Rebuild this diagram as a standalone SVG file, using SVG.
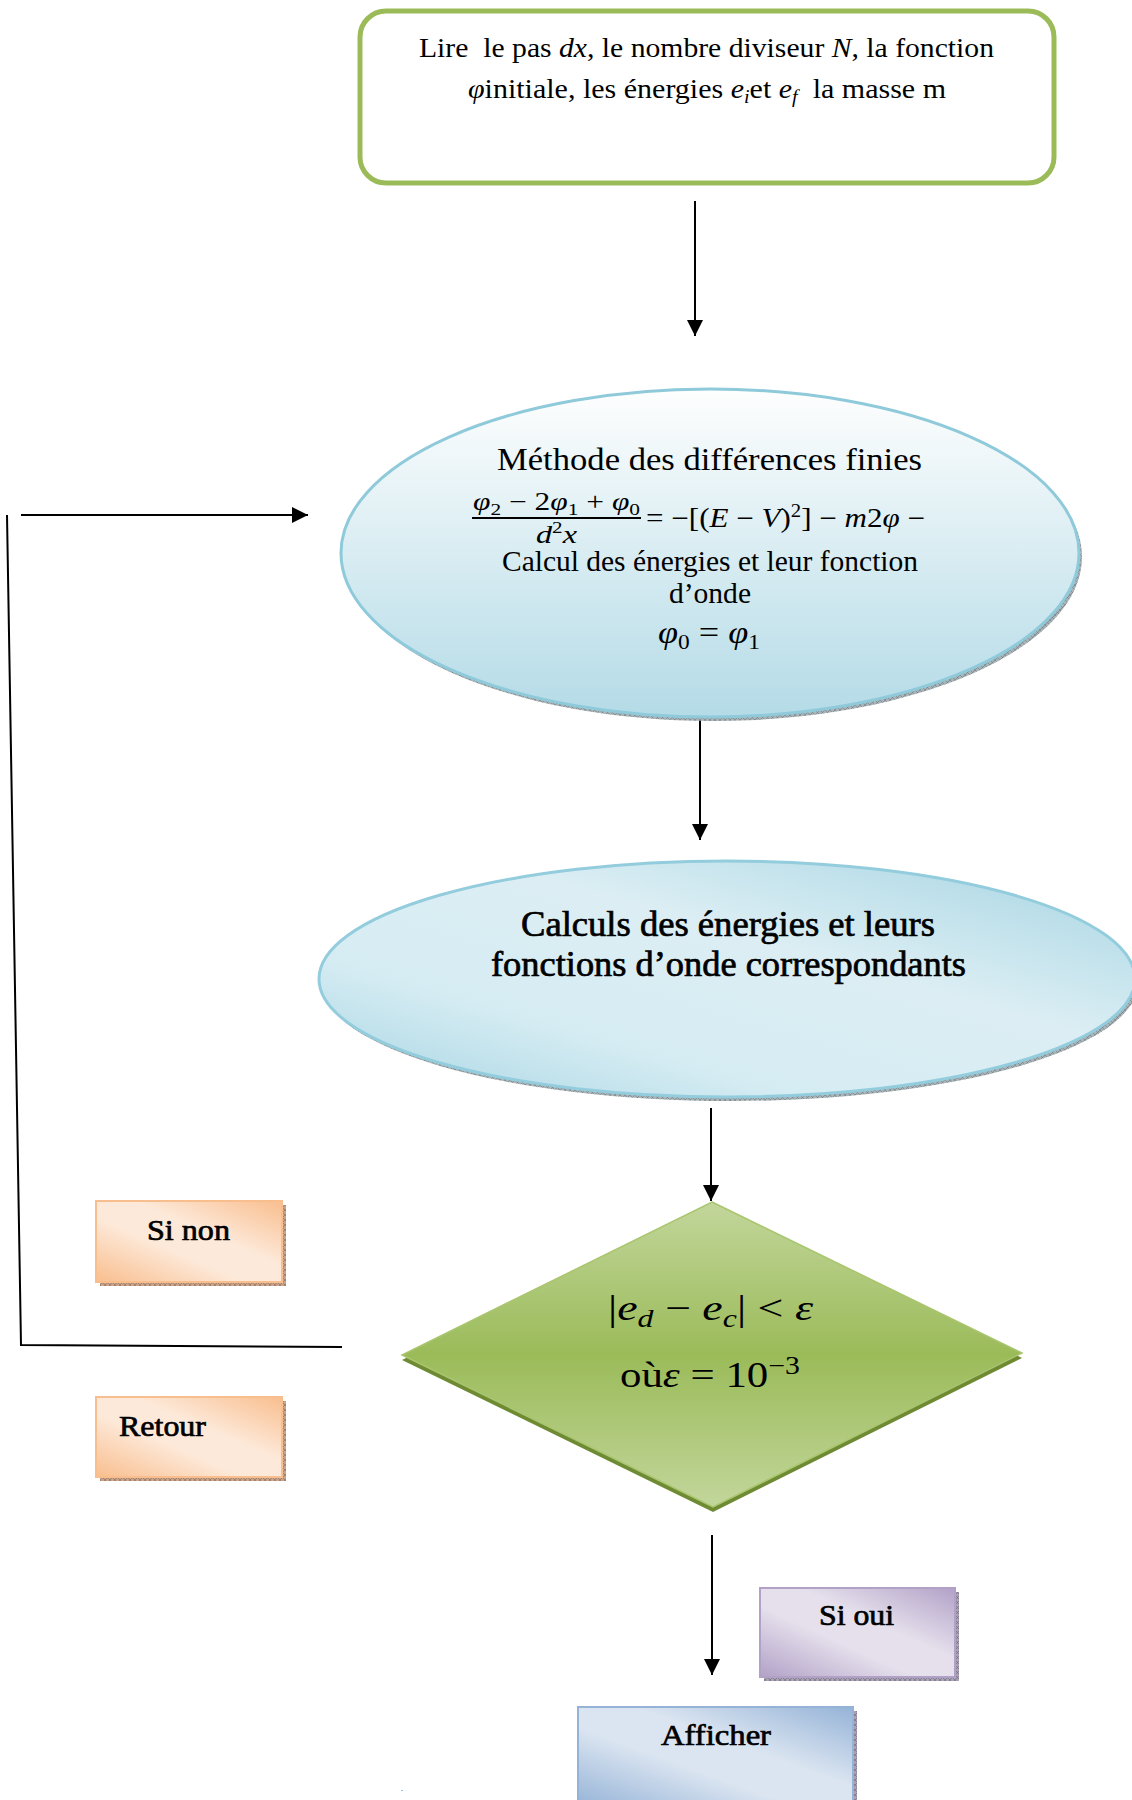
<svg xmlns="http://www.w3.org/2000/svg" width="1132" height="1800" viewBox="0 0 1132 1800">
<defs>
<style>
.t{font-family:"Liberation Serif","Times New Roman",serif;fill:#000}
.m{font-family:"Liberation Serif","Times New Roman",serif;font-style:italic}
.b{font-family:"Liberation Serif","Times New Roman",serif;fill:#000;stroke:#000;stroke-width:0.7}
.conn{stroke:#000;stroke-width:2;fill:none}
</style>
<marker id="ah" viewBox="0 0 16 16" refX="16" refY="8" markerWidth="16" markerHeight="16" markerUnits="userSpaceOnUse" orient="auto">
<path d="M0,0 L16,8 L0,16 z" fill="#000"/>
</marker>
<pattern id="hatchG" width="5" height="5" patternUnits="userSpaceOnUse">
<rect width="5" height="5" fill="#a9b4b8"/><path d="M0,5 L5,0 M0,0 L5,5" stroke="#6f7b80" stroke-width="0.6"/>
</pattern>
<pattern id="hatchO" width="5" height="5" patternUnits="userSpaceOnUse">
<rect width="5" height="5" fill="#c9a48a"/><path d="M0,5 L5,0 M0,0 L5,5" stroke="#8a6a55" stroke-width="0.6"/>
</pattern>
<pattern id="hatchP" width="5" height="5" patternUnits="userSpaceOnUse">
<rect width="5" height="5" fill="#a8a2b4"/><path d="M0,5 L5,0 M0,0 L5,5" stroke="#6e687a" stroke-width="0.6"/>
</pattern>
<linearGradient id="gE1" x1="0" y1="0" x2="0" y2="1">
<stop offset="0" stop-color="#fefefe"/><stop offset="1" stop-color="#b4dbe7"/>
</linearGradient>
<linearGradient id="gE2" x1="0" y1="1" x2="1" y2="0">
<stop offset="0" stop-color="#a4d4e2"/><stop offset="0.3" stop-color="#d6ecf3"/><stop offset="0.6" stop-color="#dceef4"/><stop offset="1" stop-color="#a4d4e2"/>
</linearGradient>
<linearGradient id="gD" x1="0" y1="0" x2="0" y2="1">
<stop offset="0" stop-color="#c2d69b"/><stop offset="0.5" stop-color="#9bbb59"/><stop offset="1" stop-color="#c2d69b"/>
</linearGradient>
<linearGradient id="gO" x1="0" y1="1" x2="1" y2="0">
<stop offset="0" stop-color="#f9be8e"/><stop offset="0.4" stop-color="#fde9d9"/><stop offset="0.6" stop-color="#fde9d9"/><stop offset="1" stop-color="#f9be8e"/>
</linearGradient>
<linearGradient id="gP" x1="0" y1="1" x2="1" y2="0">
<stop offset="0" stop-color="#b2a1c7"/><stop offset="0.4" stop-color="#e5e0ec"/><stop offset="0.6" stop-color="#e5e0ec"/><stop offset="1" stop-color="#b2a1c7"/>
</linearGradient>
<linearGradient id="gB" x1="0" y1="1" x2="1" y2="0">
<stop offset="0" stop-color="#95b3d7"/><stop offset="0.4" stop-color="#dbe5f1"/><stop offset="0.6" stop-color="#dbe5f1"/><stop offset="1" stop-color="#95b3d7"/>
</linearGradient>
</defs>
<rect width="1132" height="1800" fill="#fff"/>

<g id="connectors">
<line class="conn" x1="695" y1="201" x2="695" y2="336" marker-end="url(#ah)"/>
<line class="conn" x1="700" y1="703" x2="700" y2="840" marker-end="url(#ah)"/>
<line class="conn" x1="711" y1="1108" x2="711" y2="1201" marker-end="url(#ah)"/>
<line class="conn" x1="712" y1="1535" x2="712" y2="1675" marker-end="url(#ah)"/>
<polyline class="conn" points="342,1347 21,1345 7,515"/>
<line class="conn" x1="21" y1="515" x2="308" y2="515" marker-end="url(#ah)"/>
</g>

<g id="lire">
<rect x="360" y="11" width="694" height="172" rx="26" ry="26" fill="#fff" stroke="#9bbb59" stroke-width="5"/>
<text class="t" x="419" y="57" font-size="27" textLength="575" lengthAdjust="spacingAndGlyphs" xml:space="preserve">Lire  le pas <tspan class="m">dx</tspan>, le nombre diviseur <tspan class="m">N</tspan>, la fonction</text>
<text class="t" x="468" y="98" font-size="27" textLength="478" lengthAdjust="spacingAndGlyphs" xml:space="preserve"><tspan class="m">φ</tspan>initiale, les énergies <tspan class="m">e</tspan><tspan class="m" font-size="18" dy="5">i</tspan><tspan dy="-5">et </tspan><tspan class="m">e</tspan><tspan class="m" font-size="18" dy="5">f</tspan><tspan dy="-5">  la masse m</tspan></text>
</g>

<g id="methode">
<ellipse cx="713" cy="557" rx="369" ry="164" fill="url(#hatchG)"/>
<ellipse cx="710" cy="553" rx="369" ry="164" fill="url(#gE1)" stroke="#8fcadb" stroke-width="3"/>
<text class="t" x="497" y="470" font-size="32" textLength="425" lengthAdjust="spacingAndGlyphs">Méthode des différences finies</text>
<text class="t" x="473" y="510" font-size="25" textLength="167" lengthAdjust="spacingAndGlyphs"><tspan class="m">φ</tspan><tspan font-size="17" dy="5">2</tspan><tspan dy="-5"> − 2</tspan><tspan class="m">φ</tspan><tspan font-size="17" dy="5">1</tspan><tspan dy="-5"> + </tspan><tspan class="m">φ</tspan><tspan font-size="17" dy="5">0</tspan></text>
<line x1="472" y1="518" x2="641" y2="518" stroke="#000" stroke-width="2"/>
<text class="t" x="536" y="543" font-size="26" textLength="41" lengthAdjust="spacingAndGlyphs"><tspan class="m">d</tspan><tspan font-size="17" dy="-10">2</tspan><tspan class="m" dy="10">x</tspan></text>
<text class="t" x="646" y="527" font-size="27" textLength="279" lengthAdjust="spacingAndGlyphs">= −[(<tspan class="m">E</tspan> − <tspan class="m">V</tspan>)<tspan font-size="18" dy="-10">2</tspan><tspan dy="10">] − </tspan><tspan class="m">m</tspan>2<tspan class="m">φ</tspan> −</text>
<text class="t" x="502" y="571" font-size="30" textLength="416" lengthAdjust="spacingAndGlyphs">Calcul des énergies et leur fonction</text>
<text class="t" x="669" y="603" font-size="30" textLength="82" lengthAdjust="spacingAndGlyphs">d’onde</text>
<text class="t" x="658" y="643" font-size="31" textLength="102" lengthAdjust="spacingAndGlyphs"><tspan class="m">φ</tspan><tspan font-size="20" dy="6">0</tspan><tspan dy="-6"> = </tspan><tspan class="m">φ</tspan><tspan font-size="20" dy="6">1</tspan></text>
</g>

<g id="calculs">
<ellipse cx="730" cy="983" rx="408" ry="118" fill="url(#hatchG)"/>
<ellipse cx="727" cy="979" rx="408" ry="118" fill="url(#gE2)" stroke="#93cddd" stroke-width="3"/>
<text class="b" x="521" y="936" font-size="35" textLength="414" lengthAdjust="spacingAndGlyphs">Calculs des énergies et leurs</text>
<text class="b" x="491" y="976" font-size="35" textLength="475" lengthAdjust="spacingAndGlyphs">fonctions d’onde correspondants</text>
</g>

<g id="test">
<polygon points="712,1207 1022,1358 713,1512 402,1360" fill="#6e8b34"/>
<polygon points="712,1202 1022,1353 713,1507 402,1355" fill="url(#gD)" stroke="#a9c56e" stroke-width="1.5"/>
<text class="t" x="608" y="1320" font-size="36" textLength="205" lengthAdjust="spacingAndGlyphs">|<tspan class="m">e</tspan><tspan class="m" font-size="25" dy="7">d</tspan><tspan dy="-7"> − </tspan><tspan class="m">e</tspan><tspan class="m" font-size="25" dy="7">c</tspan><tspan dy="-7">| &lt; </tspan><tspan class="m">ε</tspan></text>
<text class="t" x="620" y="1387" font-size="36" textLength="180" lengthAdjust="spacingAndGlyphs">où<tspan class="m">ε</tspan> = 10<tspan font-size="25" dy="-13">−3</tspan></text>
</g>

<g id="sinon">
<rect x="100" y="1205" width="186" height="81" fill="url(#hatchO)"/>
<rect x="96" y="1201" width="186" height="81" fill="url(#gO)" stroke="#f9be8e" stroke-width="2"/>
<text class="b" x="147" y="1240" font-size="30" textLength="83" lengthAdjust="spacingAndGlyphs">Si non</text>
</g>

<g id="retour">
<rect x="100" y="1401" width="186" height="80" fill="url(#hatchO)"/>
<rect x="96" y="1397" width="186" height="80" fill="url(#gO)" stroke="#f9be8e" stroke-width="2"/>
<text class="b" x="119" y="1436" font-size="30" textLength="87" lengthAdjust="spacingAndGlyphs">Retour</text>
</g>

<g id="sioui">
<rect x="764" y="1592" width="195" height="89" fill="url(#hatchP)"/>
<rect x="760" y="1588" width="195" height="89" fill="url(#gP)" stroke="#b2a1c7" stroke-width="2"/>
<text class="b" x="819" y="1625" font-size="30" textLength="75" lengthAdjust="spacingAndGlyphs">Si oui</text>
</g>

<g id="afficher">
<rect x="582" y="1711" width="275" height="100" fill="url(#hatchP)"/>
<rect x="578" y="1707" width="275" height="100" fill="url(#gB)" stroke="#95b3d7" stroke-width="2"/>
<text class="b" x="661" y="1745" font-size="30" textLength="110" lengthAdjust="spacingAndGlyphs">Afficher</text>
</g>

<text class="t" x="401" y="1791" font-size="8">.</text>
</svg>
